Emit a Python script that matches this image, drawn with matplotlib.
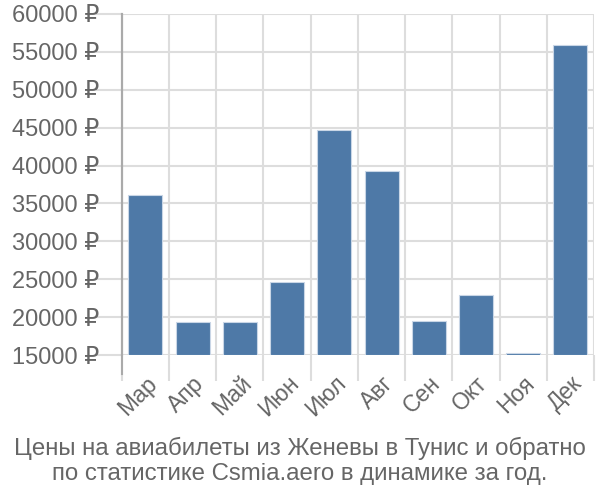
import matplotlib.pyplot as plt
import numpy as np
from matplotlib.ticker import FixedLocator, FuncFormatter

months = ["Мар", "Апр", "Май", "Июн", "Июл", "Авг", "Сен", "Окт", "Ноя", "Дек"]
prices = [36100, 19300, 19300, 24650, 44700, 39300, 19500, 22900, 15200, 55900]
y_ticks = [15000, 20000, 25000, 30000, 35000, 40000, 45000, 50000, 55000, 60000]
title = "Цены на авиабилеты из Женевы в Тунис и обратно\nпо статистике Csmia.aero в динамике за год."

plt.rcParams['font.family'] = ['Liberation Sans', 'DejaVu Sans']

grid_c = '#dddddd'
text_c = '#666666'
bar_c = '#4e79a7'

fig = plt.figure(figsize=(6, 5), dpi=100)
ax = fig.add_axes([0.203, 0.29, 0.787, 0.682])

x = np.arange(len(months))
ax.bar(x, [p - y_ticks[0] for p in prices], bottom=y_ticks[0], width=0.72,
       color=bar_c, edgecolor='#c9d6e6', linewidth=0.8, zorder=3)

ax.set_xlim(-0.5, len(months) - 0.5)
ax.set_ylim(y_ticks[0], y_ticks[-1])

ax.set_yticks(y_ticks)
ax.yaxis.set_major_formatter(FuncFormatter(lambda v, p: f"{int(v)} ₽"))
ax.tick_params(axis='y', length=19, width=1.5, color=grid_c, labelsize=17,
               labelcolor=text_c, pad=-3)

ax.set_xticks(x)
ax.set_xticklabels(months, rotation=45, ha='right', rotation_mode='anchor')
ax.xaxis.set_minor_locator(FixedLocator(np.arange(-0.5, len(months), 1)))
ax.tick_params(axis='x', which='major', length=0, labelsize=16.5,
               labelcolor=text_c, pad=12)
ax.tick_params(axis='x', which='minor', length=19, width=1.5, color=grid_c)

ax.grid(axis='y', color=grid_c, linewidth=1.5, zorder=0)
ax.grid(axis='x', which='minor', color=grid_c, linewidth=1.5, zorder=0)

for s in ['top', 'right', 'bottom']:
    ax.spines[s].set_visible(False)
ax.spines['left'].set_color('#aaaaaa')
ax.spines['left'].set_linewidth(1.5)
ax.axvline(-0.5, ymin=-0.055, ymax=1, color='#aaaaaa', linewidth=1.5,
           clip_on=False, zorder=4)

fig.text(0.5, 0.078, title, ha='center', va='center', fontsize=17.3,
         color=text_c, linespacing=1.22)

fig.savefig('out.png', dpi=100)
